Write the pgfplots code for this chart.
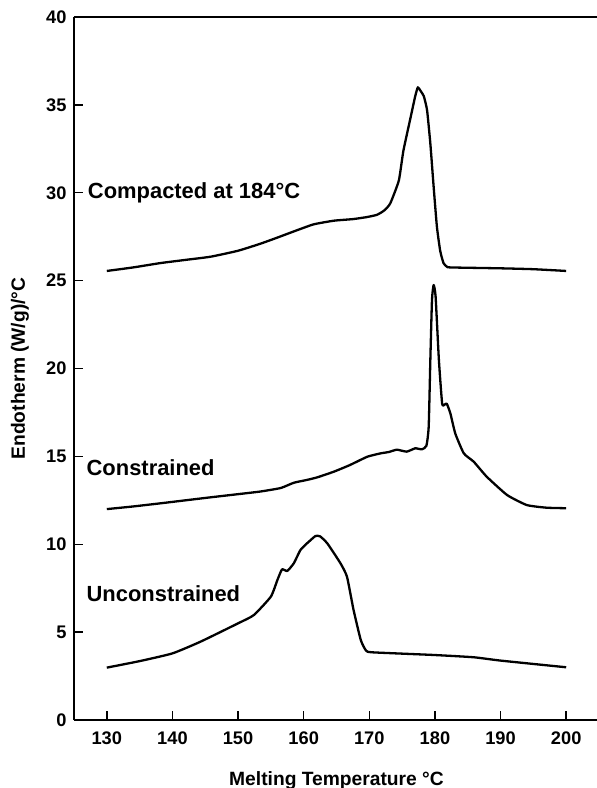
\documentclass[border=0pt]{standalone}
\usepackage{fontspec}
\setmainfont{Liberation Sans}
\usepackage{pgfplots}
\pgfplotsset{compat=1.18}
\begin{document}
\begin{tikzpicture}
\useasboundingbox (-74bp,-68bp) rectangle (523bp,720bp);
\begin{axis}[
  at={(0,0)}, anchor=south west,
  scale only axis, width=525bp, height=703bp,
  xmin=125, xmax=205, ymin=0, ymax=40,
  axis x line=box, axis y line=left,
  axis line style={-, line width=1.6bp},
  xtick={130,140,...,200}, ytick={0,5,...,40},
  xtick pos=bottom,
  tick align=inside, major tick length=9bp,
  tick style={line width=1.4bp, black},
  minor tick num=0,
  /pgf/number format/assume math mode=true,
  ticklabel style={font=\fontsize{18.3}{20}\selectfont\bfseries},
  xticklabel style={yshift=-8bp},
  yticklabel style={xshift=-4bp},
  xlabel={Melting Temperature °C},
  ylabel={Endotherm (W/g)/°C},
  xlabel style={font=\fontsize{19.3}{21}\selectfont\bfseries, at={(axis description cs:0.5,-0.0925)}, anchor=base},
  ylabel style={font=\fontsize{19.3}{21}\selectfont\bfseries, at={(axis description cs:-0.103,0.5)}, anchor=center},
  clip=false,
]
\addplot[black, line width=2.3bp, line join=round, smooth, tension=0.3] coordinates {
(130,25.55) (134,25.75) (138.2,26.0) (142,26.18) (145.8,26.36) (150,26.7) (153.4,27.1) (156,27.45) (158.5,27.8) (161.5,28.2) (164.6,28.41) (167.5,28.5) (169.7,28.62) (171.2,28.75) (172.3,29.0) (173.2,29.4) (174.5,30.7) (175.2,32.4) (176.3,34.3) (177.0,35.5) (177.4,36.0) (177.8,35.8) (178.3,35.5) (178.8,34.7) (179.3,32.8) (179.8,30.35) (180.3,28.07) (180.8,26.7) (181.3,26.0) (181.8,25.8) (182.4,25.75) (190,25.7) (195,25.65) (200,25.55)
};
\addplot[black, line width=2.3bp, line join=round, smooth, tension=0.3] coordinates {
(130,12.0) (134,12.15) (138.2,12.33) (142,12.5) (145.8,12.67) (150,12.85) (153.4,13.0) (156.5,13.2) (158.5,13.5) (160.5,13.66) (162.1,13.81) (164.6,14.13) (167,14.5) (169.7,14.98) (171.7,15.17) (173,15.25) (174.2,15.38) (175.7,15.27) (177.0,15.46) (178.0,15.4) (178.7,15.6) (179.05,16.7) (179.3,20.5) (179.55,23.9) (179.8,24.75) (180.1,24.1) (180.6,20.5) (181.1,18.0) (181.5,17.95) (181.8,18.0) (182.35,17.45) (183.1,16.3) (184.4,15.17) (185.9,14.7) (187.9,13.84) (191.0,12.8) (194.0,12.23) (197,12.08) (200,12.05)
};
\addplot[black, line width=2.3bp, line join=round, smooth, tension=0.3] coordinates {
(130,2.98) (135,3.35) (140,3.79) (144.3,4.46) (150,5.5) (152.4,5.97) (155,7.02) (156.0,7.97) (156.7,8.57) (157.5,8.48) (158.5,8.92) (159.5,9.67) (160.5,10.05) (160.8,10.15) (161.8,10.47) (162.5,10.45) (163.6,10.05) (165.6,8.92) (166.6,8.15) (167.6,6.26) (168.7,4.55) (169.5,3.95) (170.5,3.85) (179.8,3.7) (185.9,3.57) (190,3.38) (200,3.0)
};
\node[anchor=base west, inner sep=0pt, font=\fontsize{22}{24}\selectfont\bfseries] at (axis cs:127.1,29.68) {Compacted at 184°C};
\node[anchor=base west, inner sep=0pt, font=\fontsize{22}{24}\selectfont\bfseries] at (axis cs:126.9,13.94) {Constrained};
\node[anchor=base west, inner sep=0pt, font=\fontsize{22}{24}\selectfont\bfseries] at (axis cs:126.9,6.73) {Unconstrained};
\end{axis}
\end{tikzpicture}
\end{document}
